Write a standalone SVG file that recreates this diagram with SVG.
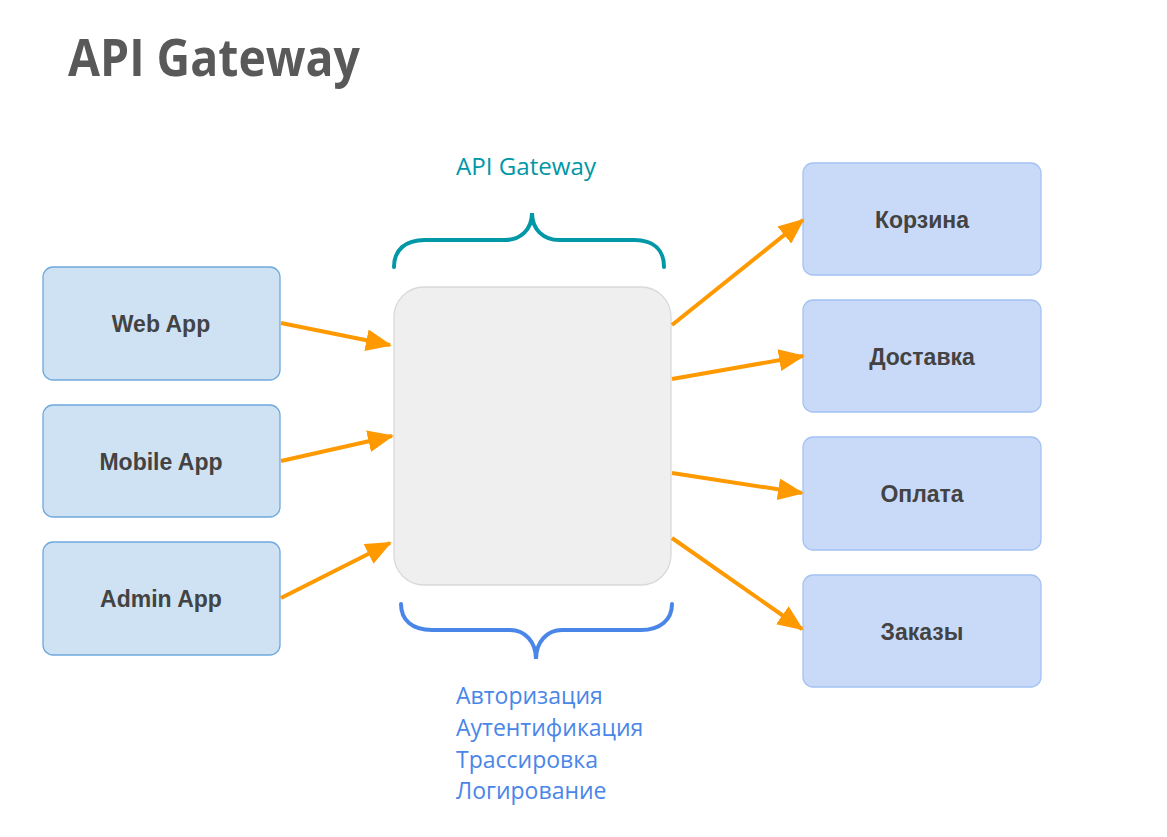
<svg xmlns="http://www.w3.org/2000/svg" width="1167" height="837" viewBox="0 0 1167 837">
<defs>
<style>
.client rect{fill:#cfe2f3;stroke:#6fa8dc;stroke-width:1.3}
.svc rect{fill:#c9daf8;stroke:#a4c2f4;stroke-width:1.3}
.lbl{font-family:"Liberation Sans",Arial,sans-serif;font-weight:bold;font-size:23px;fill:#434343;text-anchor:middle}
.conn line{stroke:#ff9900;stroke-width:4;marker-end:url(#ah)}
.brace{fill:none;stroke-width:4;stroke-linecap:round}
.note{font-family:"Open Sans","Noto Sans",sans-serif;font-size:23px}
</style>
<marker id="ah" markerUnits="userSpaceOnUse" markerWidth="26" markerHeight="22" viewBox="0 0 26 22" refX="24" refY="11" orient="auto">
<path d="M0,0 L26,11 L0,22 z" fill="#ff9900"/>
</marker>
</defs>
<rect width="1167" height="837" fill="#ffffff"/>
<text x="68" y="76" font-family="'Open Sans','Noto Sans',sans-serif" font-weight="bold" font-size="52" fill="#595959" textLength="292" lengthAdjust="spacingAndGlyphs">API Gateway</text>

<g id="gateway">
<rect x="394" y="287" width="277" height="298" rx="30" fill="#efefef" stroke="#d9d9d9" stroke-width="1.3"/>
</g>

<g id="gateway-label">
<path class="brace" stroke="#0097a7" d="M394,267 C394,250 405,240 425,240 L505,240 C520,240 532,230 532,213 C532,230 544,240 559,240 L634,240 C654,240 664,250 664,267"/>
<text class="note" x="456" y="175" fill="#0097a7" textLength="140" lengthAdjust="spacingAndGlyphs">API Gateway</text>
</g>

<g id="functions">
<path class="brace" stroke="#4a86e8" d="M401,604 C401,620 412,630 432,630 L510,630 C525,630 536,642 536,659 C536,642 547,630 562,630 L641,630 C660,630 672,620 672,604"/>
<text class="note" fill="#4a86e8"><tspan x="456" y="704">Авторизация</tspan><tspan x="456" y="736">Аутентификация</tspan><tspan x="456" y="768">Трассировка</tspan><tspan x="456" y="799">Логирование</tspan></text>
</g>

<g id="web-app" class="client"><rect x="43" y="267" width="237" height="113" rx="10"/><text class="lbl" x="161" y="332">Web App</text></g>
<g id="mobile-app" class="client"><rect x="43" y="405" width="237" height="112" rx="10"/><text class="lbl" x="161" y="470">Mobile App</text></g>
<g id="admin-app" class="client"><rect x="43" y="542" width="237" height="113" rx="10"/><text class="lbl" x="161" y="607">Admin App</text></g>

<g id="korzina" class="svc"><rect x="803" y="163" width="238" height="112" rx="10"/><text class="lbl" x="922" y="228">Корзина</text></g>
<g id="dostavka" class="svc"><rect x="803" y="300" width="238" height="112" rx="10"/><text class="lbl" x="922" y="365">Доставка</text></g>
<g id="oplata" class="svc"><rect x="803" y="437" width="238" height="113" rx="10"/><text class="lbl" x="922" y="502">Оплата</text></g>
<g id="zakazy" class="svc"><rect x="803" y="575" width="238" height="112" rx="10"/><text class="lbl" x="922" y="640">Заказы</text></g>

<g id="connectors" class="conn">
<line x1="281" y1="323" x2="390" y2="345"/>
<line x1="281" y1="461" x2="392" y2="436"/>
<line x1="281" y1="598" x2="390" y2="543"/>
<line x1="672" y1="325" x2="803" y2="220"/>
<line x1="672" y1="379" x2="803" y2="356"/>
<line x1="672" y1="473" x2="802" y2="493"/>
<line x1="672" y1="538" x2="802" y2="629"/>
</g>
</svg>
